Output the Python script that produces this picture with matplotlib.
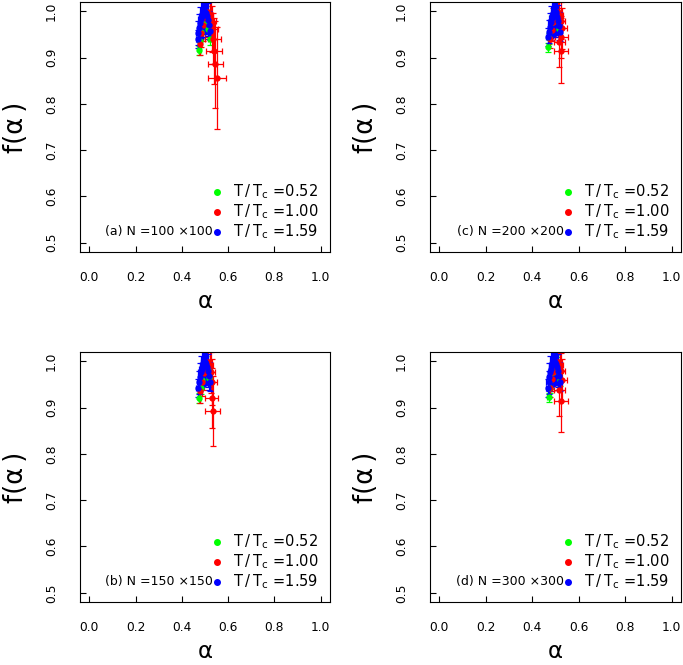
import matplotlib
matplotlib.use("Agg")
import matplotlib.pyplot as plt

# temperatures shown in every panel
temps = ["0.52", "1.00", "1.59"]
colors = ["#00ff00", "#ff0000", "#0000ff"]
panel_tags = ["(a) N =100 \u00d7100", "(c) N =200 \u00d7200",
              "(b) N =150 \u00d7150", "(d) N =300 \u00d7300"]

xticks = [0.0, 0.2, 0.4, 0.6, 0.8, 1.0]
yticks = [0.5, 0.6, 0.7, 0.8, 0.9, 1.0]

# ---- panel (a), N = 100x100 ----
a_green_alpha = [0.476, 0.480, 0.485, 0.490, 0.495, 0.500, 0.505, 0.510, 0.515, 0.520]
a_green_f = [0.916, 0.935, 0.955, 0.972, 0.986, 0.995, 0.992, 0.980, 0.962, 0.940]
a_green_xerr = [0.006, 0.006, 0.006, 0.006, 0.006, 0.006, 0.006, 0.006, 0.006, 0.006]
a_green_yerr = [0.010, 0.012, 0.015, 0.018, 0.020, 0.020, 0.020, 0.018, 0.015, 0.012]

a_red_alpha = [0.478, 0.485, 0.492, 0.499, 0.506, 0.513, 0.520, 0.526, 0.531, 0.534, 0.538, 0.544, 0.552]
a_red_f = [0.930, 0.952, 0.970, 0.985, 0.995, 0.999, 0.992, 0.980, 0.962, 0.941, 0.914, 0.886, 0.855]
a_red_xerr = [0.006, 0.007, 0.008, 0.009, 0.010, 0.012, 0.015, 0.020, 0.025, 0.034, 0.035, 0.032, 0.041]
a_red_yerr = [0.025, 0.030, 0.035, 0.040, 0.040, 0.040, 0.040, 0.045, 0.050, 0.055, 0.072, 0.094, 0.110]

a_blue_alpha = [0.468, 0.472, 0.476, 0.480, 0.484, 0.488, 0.492, 0.496, 0.500, 0.504, 0.508, 0.512, 0.516, 0.520]
a_blue_f = [0.940, 0.953, 0.964, 0.974, 0.983, 0.990, 0.995, 0.998, 0.999, 0.996, 0.990, 0.982, 0.971, 0.958]
a_blue_xerr = [0.008, 0.009, 0.010, 0.011, 0.012, 0.013, 0.013, 0.013, 0.013, 0.013, 0.012, 0.011, 0.010, 0.008]
a_blue_yerr = [0.020, 0.025, 0.030, 0.035, 0.040, 0.045, 0.045, 0.045, 0.045, 0.045, 0.040, 0.035, 0.030, 0.020]

# ---- panel (c), N = 200x200 ----
c_green_alpha = [0.468, 0.474, 0.480, 0.486, 0.492, 0.498, 0.504, 0.510, 0.516]
c_green_f = [0.922, 0.942, 0.960, 0.976, 0.988, 0.996, 0.993, 0.980, 0.962]
c_green_xerr = [0.005, 0.005, 0.005, 0.005, 0.005, 0.005, 0.005, 0.005, 0.005]
c_green_yerr = [0.010, 0.012, 0.014, 0.016, 0.018, 0.018, 0.018, 0.016, 0.014]

c_red_alpha = [0.476, 0.483, 0.490, 0.497, 0.504, 0.511, 0.517, 0.522, 0.527, 0.524, 0.517, 0.524]
c_red_f = [0.940, 0.960, 0.976, 0.989, 0.997, 0.999, 0.992, 0.980, 0.963, 0.945, 0.934, 0.915]
c_red_xerr = [0.006, 0.007, 0.008, 0.009, 0.010, 0.012, 0.014, 0.018, 0.022, 0.028, 0.025, 0.030]
c_red_yerr = [0.020, 0.025, 0.030, 0.035, 0.035, 0.035, 0.035, 0.040, 0.045, 0.045, 0.055, 0.070]

c_blue_alpha = [0.468, 0.472, 0.476, 0.480, 0.484, 0.488, 0.492, 0.496, 0.500, 0.504, 0.508, 0.512, 0.516, 0.520]
c_blue_f = [0.944, 0.956, 0.967, 0.977, 0.985, 0.991, 0.996, 0.999, 0.998, 0.994, 0.988, 0.979, 0.968, 0.955]
c_blue_xerr = [0.008, 0.009, 0.010, 0.011, 0.012, 0.013, 0.013, 0.013, 0.013, 0.013, 0.012, 0.011, 0.010, 0.008]
c_blue_yerr = [0.020, 0.025, 0.030, 0.035, 0.040, 0.045, 0.045, 0.045, 0.045, 0.045, 0.040, 0.035, 0.030, 0.020]

# ---- panel (b), N = 150x150 ----
b_green_alpha = [0.476, 0.481, 0.486, 0.491, 0.496, 0.501, 0.506, 0.511, 0.516]
b_green_f = [0.921, 0.942, 0.960, 0.976, 0.988, 0.996, 0.993, 0.981, 0.963]
b_green_xerr = [0.005, 0.005, 0.005, 0.005, 0.005, 0.005, 0.005, 0.005, 0.005]
b_green_yerr = [0.010, 0.012, 0.014, 0.016, 0.018, 0.018, 0.018, 0.016, 0.014]

b_red_alpha = [0.480, 0.487, 0.494, 0.501, 0.508, 0.515, 0.520, 0.525, 0.529, 0.529, 0.534]
b_red_f = [0.935, 0.956, 0.974, 0.987, 0.996, 0.999, 0.991, 0.976, 0.955, 0.921, 0.893]
b_red_xerr = [0.006, 0.007, 0.008, 0.009, 0.010, 0.012, 0.014, 0.018, 0.024, 0.028, 0.032]
b_red_yerr = [0.025, 0.030, 0.035, 0.035, 0.035, 0.035, 0.040, 0.045, 0.050, 0.065, 0.076]

b_blue_alpha = [0.470, 0.474, 0.478, 0.482, 0.486, 0.490, 0.494, 0.498, 0.502, 0.506, 0.510, 0.514, 0.518, 0.522]
b_blue_f = [0.942, 0.955, 0.966, 0.976, 0.984, 0.991, 0.996, 0.999, 0.998, 0.994, 0.988, 0.980, 0.969, 0.956]
b_blue_xerr = [0.008, 0.009, 0.010, 0.011, 0.012, 0.013, 0.013, 0.013, 0.013, 0.013, 0.012, 0.011, 0.010, 0.008]
b_blue_yerr = [0.020, 0.025, 0.030, 0.035, 0.040, 0.045, 0.045, 0.045, 0.045, 0.045, 0.040, 0.035, 0.030, 0.020]

# ---- panel (d), N = 300x300 ----
d_green_alpha = [0.470, 0.476, 0.482, 0.488, 0.494, 0.500, 0.506, 0.512, 0.518]
d_green_f = [0.922, 0.943, 0.961, 0.977, 0.989, 0.996, 0.992, 0.979, 0.960]
d_green_xerr = [0.005, 0.005, 0.005, 0.005, 0.005, 0.005, 0.005, 0.005, 0.005]
d_green_yerr = [0.010, 0.012, 0.014, 0.016, 0.018, 0.018, 0.018, 0.016, 0.014]

d_red_alpha = [0.477, 0.484, 0.491, 0.498, 0.505, 0.512, 0.518, 0.523, 0.527, 0.517, 0.522]
d_red_f = [0.942, 0.961, 0.977, 0.990, 0.997, 0.999, 0.991, 0.978, 0.960, 0.937, 0.915]
d_red_xerr = [0.006, 0.007, 0.008, 0.009, 0.010, 0.012, 0.014, 0.017, 0.022, 0.024, 0.030]
d_red_yerr = [0.020, 0.025, 0.030, 0.035, 0.035, 0.035, 0.035, 0.040, 0.045, 0.056, 0.067]

d_blue_alpha = [0.466, 0.470, 0.474, 0.478, 0.482, 0.486, 0.490, 0.494, 0.498, 0.502, 0.506, 0.510, 0.514, 0.518]
d_blue_f = [0.942, 0.955, 0.966, 0.976, 0.984, 0.991, 0.996, 0.999, 0.998, 0.994, 0.988, 0.980, 0.969, 0.956]
d_blue_xerr = [0.008, 0.009, 0.010, 0.011, 0.012, 0.013, 0.013, 0.013, 0.013, 0.013, 0.012, 0.011, 0.010, 0.008]
d_blue_yerr = [0.020, 0.025, 0.030, 0.035, 0.040, 0.045, 0.045, 0.045, 0.045, 0.045, 0.040, 0.035, 0.030, 0.020]

panels = [
    [(a_green_alpha, a_green_f, a_green_xerr, a_green_yerr),
     (a_red_alpha, a_red_f, a_red_xerr, a_red_yerr),
     (a_blue_alpha, a_blue_f, a_blue_xerr, a_blue_yerr)],
    [(c_green_alpha, c_green_f, c_green_xerr, c_green_yerr),
     (c_red_alpha, c_red_f, c_red_xerr, c_red_yerr),
     (c_blue_alpha, c_blue_f, c_blue_xerr, c_blue_yerr)],
    [(b_green_alpha, b_green_f, b_green_xerr, b_green_yerr),
     (b_red_alpha, b_red_f, b_red_xerr, b_red_yerr),
     (b_blue_alpha, b_blue_f, b_blue_xerr, b_blue_yerr)],
    [(d_green_alpha, d_green_f, d_green_xerr, d_green_yerr),
     (d_red_alpha, d_red_f, d_red_xerr, d_red_yerr),
     (d_blue_alpha, d_blue_f, d_blue_xerr, d_blue_yerr)],
]

# axes rectangles in figure fractions (R-like layout)
boxes = [
    [0.1171, 0.6211, 0.3660, 0.3759],
    [0.6296, 0.6211, 0.3675, 0.3759],
    [0.1171, 0.0947, 0.3660, 0.3759],
    [0.6296, 0.0947, 0.3675, 0.3759],
]

fig = plt.figure(figsize=(6.83, 6.65), dpi=100)

for box, series, tag in zip(boxes, panels, panel_tags):
    ax = fig.add_axes(box)
    for (al, fa, xe, ye), col in zip(series, colors):
        ax.errorbar(al, fa, xerr=xe, yerr=ye, fmt="o", color=col, ms=3.5,
                    elinewidth=0.9, capsize=2.2, capthick=0.9)

    ax.set_xlim(-0.04, 1.04)
    ax.set_ylim(0.48, 1.02)
    ax.set_xticks(xticks)
    ax.set_yticks(yticks)
    ax.set_xticklabels([f"{t:.1f}" for t in xticks], fontsize=8.8)
    ax.set_yticklabels([f"{t:.1f}" for t in yticks], fontsize=8.8,
                       rotation=90, va="center")
    ax.tick_params(direction="in", length=4.5, width=0.8)
    ax.tick_params(axis="x", pad=14)
    ax.tick_params(axis="y", pad=16)
    for sp in ax.spines.values():
        sp.set_linewidth(0.8)

    ax.set_xlabel("\u03b1", fontsize=16.5, va="center")
    ax.set_ylabel("f(\u03b1\u2009)", fontsize=18.5, va="center")
    ax.xaxis.set_label_coords(0.5, -0.198)
    ax.yaxis.set_label_coords(-0.256, 0.5)

    # legend drawn by hand, R style
    rows = [0.241, 0.161, 0.081]
    for yy, col, t in zip(rows, colors, temps):
        ax.plot([0.548], [yy], "o", color=col, ms=4, transform=ax.transAxes,
                clip_on=False)
        ax.text(0.612, yy, "T\u2009/\u2009T$_{\\rm c}$ =" + t,
                transform=ax.transAxes, fontsize=10.5, va="center", ha="left")
    ax.text(0.532, rows[2], tag, transform=ax.transAxes, fontsize=9,
            va="center", ha="right")

plt.savefig("out.png", dpi=100)
